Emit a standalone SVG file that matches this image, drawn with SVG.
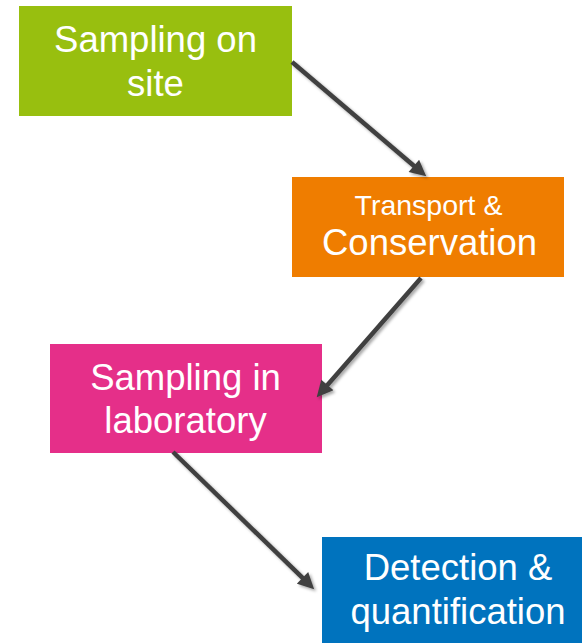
<svg xmlns="http://www.w3.org/2000/svg" width="582" height="643" viewBox="0 0 582 643">
  <style>
    .lbl { font-family: "Liberation Sans", Arial, sans-serif; fill: #ffffff; text-anchor: middle; }
    .big { font-size: 36.5px; }
    .small { font-size: 28.5px; }
    .conn { stroke: #404040; stroke-width: 4.5; fill: none; marker-end: url(#head); filter: url(#shadow); }
  </style>
  <defs>
    <marker id="head" viewBox="0 0 10 10" refX="4" refY="5" markerWidth="4" markerHeight="3.6" orient="auto" markerUnits="strokeWidth">
      <path d="M0,0 L10,5 L0,10 z" fill="#404040"/>
    </marker>
    <filter id="shadow" x="-20%" y="-20%" width="140%" height="140%">
      <feDropShadow dx="2" dy="2" stdDeviation="1.5" flood-color="#000000" flood-opacity="0.35"/>
    </filter>
  </defs>

  <g id="node-sampling-site">
    <rect x="19" y="6" width="273" height="110" fill="#98BF0F"/>
    <text class="lbl big" x="155.5" y="52">Sampling on</text>
    <text class="lbl big" x="155.5" y="96">site</text>
  </g>

  <g id="node-transport">
    <rect x="292" y="177" width="272" height="100" fill="#EF7D00"/>
    <text class="lbl small" x="428.5" y="215">Transport &amp;</text>
    <text class="lbl big" x="429.5" y="255">Conservation</text>
  </g>

  <g id="node-sampling-lab">
    <rect x="50" y="344" width="272" height="109" fill="#E52F89"/>
    <text class="lbl big" x="185.5" y="390">Sampling in</text>
    <text class="lbl big" x="185.5" y="433">laboratory</text>
  </g>

  <g id="node-detection">
    <rect x="322" y="537" width="272" height="106" fill="#0073BE"/>
    <text class="lbl big" x="458" y="580">Detection &amp;</text>
    <text class="lbl big" x="458" y="624">quantification</text>
  </g>

  <g id="connectors">
    <line class="conn" x1="292" y1="62" x2="418.8" y2="170.0"/>
    <line class="conn" x1="421" y1="278" x2="323.1" y2="389.9"/>
    <line class="conn" x1="173" y1="452" x2="307.2" y2="582.4"/>
  </g>
</svg>
